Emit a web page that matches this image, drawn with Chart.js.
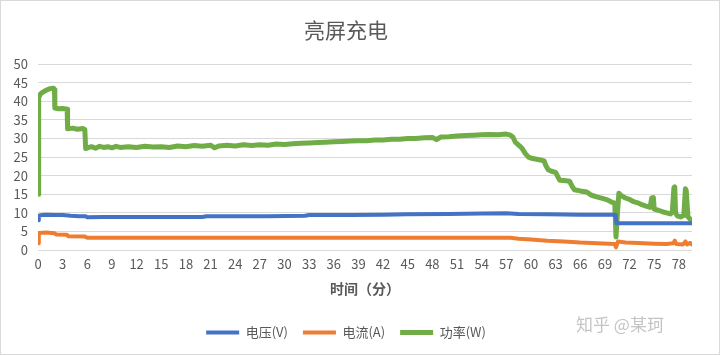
<!DOCTYPE html>
<html><head><meta charset="utf-8">
<script src="https://cdn.jsdelivr.net/npm/chart.js@4.4.0/dist/chart.umd.min.js"></script>
<style>html,body{margin:0;padding:0;background:#fff}#wrap{width:720px;height:355px;position:relative}</style>
</head><body><div id="wrap"><canvas id="c" width="720" height="355"></canvas></div>
<script>
const chartTitle = '亮屏充电';
const xAxisTitle = '时间（分）';
const watermark = '知乎 @某珂';
const seriesNames = ['电压(V)', '电流(A)', '功率(W)'];
const xTickLabels = [0,3,6,9,12,15,18,21,24,27,30,33,36,39,42,45,48,51,54,57,60,63,66,69,72,75,78];
const yTickLabels = [0,5,10,15,20,25,30,35,40,45,50];

// 电压(V)
const voltTime = [0,0.1,0.5,1,2,3,4,5,5.8,6,8,12,16,20,20.5,24,28,32.5,33,38,42,45,50,54,57,58.5,62,66,70.3,70.4,75,79.6];
const voltValue = [8.0,9.2,9.4,9.5,9.4,9.4,9.2,9.1,9.1,8.8,8.9,8.9,8.9,8.9,9.1,9.1,9.1,9.2,9.4,9.4,9.5,9.6,9.7,9.8,9.9,9.7,9.6,9.5,9.5,7.2,7.2,7.2];

// 电流(A)
const currTime = [0,0.1,1,2,2.2,3.5,3.7,5.7,6,10,20,30,40,50,57.5,58.5,60,62,64,66,68,70.2,70.35,70.6,71.5,73,75,76.5,77.3,77.5,77.7,78.5,78.8,79.0,79.4,79.6];
const currValue = [1.8,4.6,4.7,4.5,4.2,4.1,3.7,3.6,3.3,3.3,3.3,3.3,3.3,3.3,3.3,3.0,2.8,2.5,2.3,2.0,1.8,1.6,0.7,2.3,2.0,1.9,1.7,1.6,1.8,2.5,1.6,1.5,2.3,1.5,1.9,1.5];

// 功率(W)
const powerTime = [0,0.08,0.3,0.6,1.0,1.4,1.9,2.0,2.05,2.5,3.0,3.55,3.6,4.2,4.8,5.5,5.7,5.8,6.2,6.5,7,7.5,8,8.5,9,9.5,10,11,12,13,14,15,16,17,18,19,20,21,21.5,22,23,24,25,26,27,28,29,30,31,32,33,34,35,36,37,38,39,40,41,42,43,44,45,46,47,48,48.5,49,50,51,52,53,54,55,56,57,57.5,57.8,58.1,58.5,58.9,59.3,59.7,60.2,61.0,61.6,61.8,62.1,62.5,63.0,63.3,63.5,64.0,64.7,65.0,65.3,66.0,66.8,67.3,68.0,68.7,69.3,69.8,70.2,70.35,70.5,70.7,71.0,71.5,72.0,72.5,73.0,73.5,74.0,74.5,74.7,74.9,75.0,75.5,76.0,76.5,77.0,77.2,77.4,77.5,77.6,77.8,78.2,78.6,78.8,78.9,79.1,79.4,79.6,79.65];
const powerValue = [15,41,42,42.5,43,43.4,43.5,43.2,38.2,38,38.1,37.9,32.6,32.8,32.5,32.7,32.4,27.3,27.6,27.8,27.4,27.9,27.6,27.8,27.5,27.9,27.6,27.8,27.6,27.9,27.7,27.8,27.6,28.0,27.8,28.1,27.9,28.2,27.5,28.0,28.2,28.0,28.3,28.1,28.3,28.2,28.5,28.4,28.6,28.7,28.8,28.9,29.0,29.1,29.2,29.3,29.4,29.4,29.6,29.6,29.8,29.8,30.0,30.0,30.2,30.3,29.7,30.4,30.5,30.7,30.8,30.9,31.0,31.1,31.0,31.2,30.9,30.4,29.0,28.2,27.4,26.0,25.0,24.6,24.3,24.0,22.8,21.6,21.2,20.9,19.6,18.8,18.7,18.5,17.2,16.2,15.9,15.6,14.8,14.3,13.9,13.5,12.9,12.6,3.5,9.0,15.3,14.6,14.0,13.6,13.0,12.7,12.2,11.8,11.5,14.0,14.1,11.0,10.7,10.3,10.0,9.7,10.2,16.8,17.0,10.0,9.2,8.9,9.3,16.5,16.0,9.0,8.2,7.8,0.5];

const toPts = (t, v) => t.map((x, i) => ({x: x, y: v[i]}));
const FONT = '"Noto Sans CJK SC", "Noto Sans", sans-serif';
const TXT = '#595959';

const framePlugin = {
  id: 'frame',
  beforeDraw(chart) {
    const c = chart.ctx;
    c.save(); c.fillStyle = '#fff'; c.fillRect(0, 0, chart.width, chart.height); c.restore();
  },
  afterDraw(chart) {
    const c = chart.ctx;
    c.save();
    c.strokeStyle = '#d9d9d9'; c.lineWidth = 1;
    c.strokeRect(0.5, 0.5, chart.width - 1, chart.height - 1);
    c.font = '17px ' + FONT; c.fillStyle = '#c4c4c4';
    c.textAlign = 'left'; c.textBaseline = 'middle';
    c.fillText(watermark, 576, 325);
    c.restore();
  }
};

new Chart(document.getElementById('c'), {
  type: 'line',
  data: {
    datasets: [
      {label: seriesNames[0], data: toPts(voltTime, voltValue), borderColor: '#4472C4', backgroundColor: '#4472C4', borderWidth: 4},
      {label: seriesNames[1], data: toPts(currTime, currValue), borderColor: '#ED7D31', backgroundColor: '#ED7D31', borderWidth: 4},
      {label: seriesNames[2], data: toPts(powerTime, powerValue), borderColor: '#70AD47', backgroundColor: '#70AD47', borderWidth: 5}
    ]
  },
  options: {
    responsive: false,
    animation: false,
    elements: {point: {radius: 0, hoverRadius: 0}, line: {tension: 0, borderJoinStyle: 'round', borderCapStyle: 'round'}},
    layout: {padding: {left: 0, right: 28, top: 0, bottom: 6}},
    plugins: {
      title: {display: true, text: chartTitle, color: TXT, font: {family: FONT, size: 21, weight: 'normal'}, padding: {top: 17, bottom: 22}},
      legend: {
        position: 'bottom',
        labels: {usePointStyle: true, pointStyle: 'line', pointStyleWidth: 33, color: TXT, font: {family: FONT, size: 13}, padding: 15}
      },
      tooltip: {enabled: false}
    },
    scales: {
      x: {
        type: 'linear', min: 0, max: 79.6,
        afterBuildTicks: (s) => { s.ticks = xTickLabels.map(v => ({value: v})); },
        afterFit: (s) => { s.height = 61; },
        grid: {display: false, drawTicks: false},
        border: {display: false},
        ticks: {autoSkip: false, maxRotation: 0, padding: 6, color: TXT, font: {family: FONT, size: 13}},
        title: {display: true, text: xAxisTitle, color: TXT, font: {family: FONT, size: 14, weight: 'bold'}, padding: {top: 0, bottom: 14}}
      },
      y: {
        min: 0, max: 50,
        afterBuildTicks: (s) => { s.ticks = yTickLabels.map(v => ({value: v})); },
        afterFit: (s) => { s.width = 38; },
        grid: {color: '#d9d9d9', lineWidth: 1, drawTicks: false},
        border: {display: false},
        ticks: {autoSkip: false, padding: 10, color: TXT, font: {family: FONT, size: 13}}
      }
    }
  },
  plugins: [framePlugin]
});
</script></body></html>
